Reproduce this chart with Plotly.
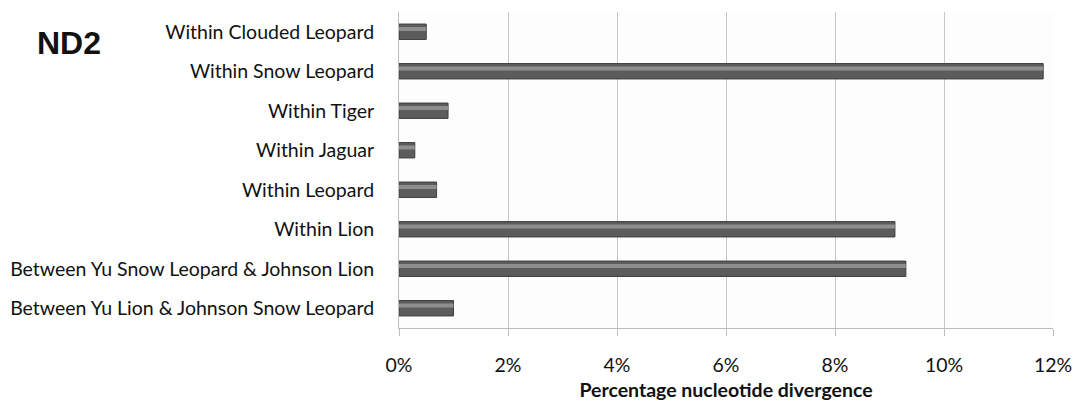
import plotly.graph_objects as go

categories = [
    "Within Clouded Leopard",
    "Within Snow Leopard",
    "Within Tiger",
    "Within Jaguar",
    "Within Leopard",
    "Within Lion",
    "Between Yu Snow Leopard & Johnson Lion",
    "Between Yu Lion & Johnson Snow Leopard",
]
divergence = [0.5, 11.82, 0.9, 0.29, 0.69, 9.1, 9.3, 1.0]
tick_vals = [0, 2, 4, 6, 8, 10, 12]
tick_text = ["0%", "2%", "4%", "6%", "8%", "10%", "12%"]

font_main = "Lato, 'Open Sans', sans-serif"
W, H = 1073, 401
L, R, T, B = 399, 20, 12, 73

fig = go.Figure()
# main bar body
fig.add_trace(go.Bar(
    y=categories, x=divergence, orientation="h", width=0.39,
    marker=dict(color="#5c5c5c", line=dict(color="#3e3e3e", width=1)),
    hoverinfo="x+y", showlegend=False,
))
# lighter sheen band along the upper part of each bar
fig.add_trace(go.Bar(
    y=categories, x=divergence, orientation="h", width=0.1, offset=-0.12,
    marker=dict(color="#8e8e8e", line=dict(width=0)),
    hoverinfo="skip", showlegend=False,
))

fig.update_layout(
    width=W, height=H,
    margin=dict(l=L, r=R, t=T, b=B),
    paper_bgcolor="white", plot_bgcolor="#fdfdfd",
    barmode="overlay",
    font=dict(family=font_main, size=19.5, color="#111111"),
    xaxis=dict(
        range=[0, 12], tickvals=tick_vals, ticktext=tick_text,
        showgrid=True, gridcolor="#c6c6c6", gridwidth=1,
        showline=True, linecolor="#bdbdbd", linewidth=1,
        ticks="outside", ticklen=7, tickcolor="#bdbdbd",
        ticklabelstandoff=13, zeroline=False, automargin=False,
        tickfont=dict(size=19.5, family=font_main, color="#111111"),
        title=dict(text="<b>Percentage nucleotide divergence</b>", standoff=12,
                   font=dict(size=19.5, family=font_main, color="#111111")),
    ),
    yaxis=dict(
        autorange="reversed", showgrid=False, automargin=False,
        showline=True, linecolor="#bdbdbd", linewidth=1,
        ticks="", ticklabelstandoff=20,
        tickfont=dict(size=19.5, family=font_main, color="#111111"),
    ),
)
pw = W - L - R
ph = H - T - B
fig.add_annotation(
    text="<b>ND2</b>", xref="paper", yref="paper",
    x=(35 - L) / pw, y=1 - (43 - T) / ph,
    xanchor="left", yanchor="middle", showarrow=False,
    font=dict(family="Arial, 'Liberation Sans', sans-serif", size=32, color="#111111"),
)

fig.write_html(
    "out.html",
    config={"displayModeBar": False},
    post_script="document.body.style.margin='0';document.body.style.overflow='hidden';",
)
